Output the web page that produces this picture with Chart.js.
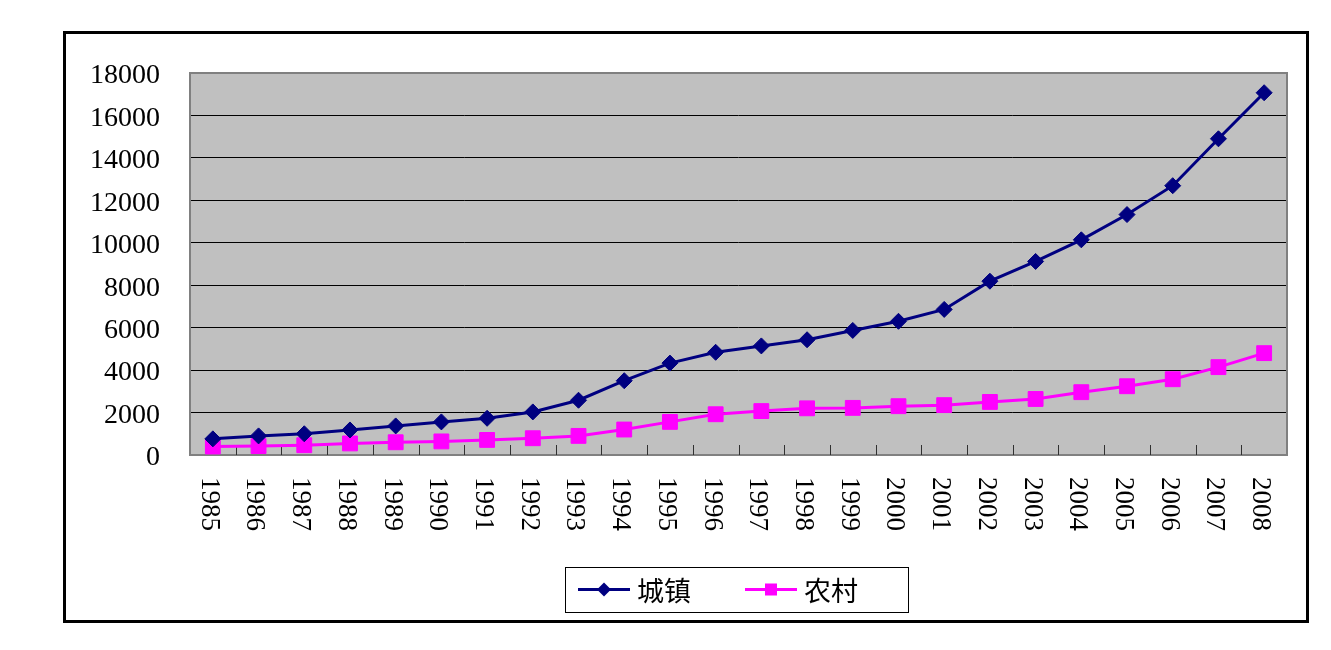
<!DOCTYPE html>
<html lang="zh">
<head>
<meta charset="UTF-8">
<title>城镇与农村 1985-2008</title>
<script src="https://cdn.jsdelivr.net/npm/chart.js"></script>
<style>
  html, body { margin: 0; padding: 0; background: #fff; }
  .wrap { position: relative; width: 1331px; height: 650px; }
  .frame { position: absolute; left: 63px; top: 31px; width: 1240px; height: 586px; border: 3px solid #000; pointer-events: none; }
  #chart { position: absolute; left: 0; top: 0; }
</style>
</head>
<body>
<div class="wrap">
  <canvas id="chart" width="1331" height="650"></canvas>
  <div class="frame"></div>
</div>
<script>
const years = ['1985','1986','1987','1988','1989','1990','1991','1992','1993','1994','1995','1996',
               '1997','1998','1999','2000','2001','2002','2003','2004','2005','2006','2007','2008'];
const urban = [760, 900, 1000, 1180, 1370, 1560, 1730, 2030, 2580, 3500, 4330, 4840,
               5140, 5430, 5870, 6300, 6860, 8190, 9120, 10140, 11330, 12690, 14900, 17070];
const rural = [400, 420, 460, 545, 600, 640, 710, 790, 900, 1200, 1560, 1920,
               2070, 2200, 2220, 2300, 2350, 2500, 2640, 2960, 3240, 3570, 4140, 4800];
const seriesNames = ['城镇', '农村'];
const yTicks = [0, 2000, 4000, 6000, 8000, 10000, 12000, 14000, 16000, 18000];

const NAVY = '#000080';
const PINK = '#FF00FF';
const serif = '"Liberation Serif", "DejaVu Serif", serif';

// gray plot background + border, short tick marks on the category axis
const plotFrame = {
  id: 'plotFrame',
  beforeDraw(chart) {
    const { ctx, chartArea: a } = chart;
    ctx.save();
    ctx.fillStyle = '#C0C0C0';
    ctx.fillRect(a.left, a.top, a.right - a.left, a.bottom - a.top);
    ctx.restore();
  },
  beforeDatasetsDraw(chart) {
    const { ctx, chartArea: a } = chart;
    const xs = chart.scales.x;
    ctx.save();
    ctx.strokeStyle = '#808080';
    ctx.lineWidth = 2;
    ctx.strokeRect(a.left, a.top, a.right - a.left, a.bottom - a.top);
    ctx.strokeStyle = '#303030';
    ctx.lineWidth = 1;
    ctx.beginPath();
    for (let i = 1; i < years.length; i++) {
      const px = Math.round(xs.getPixelForValue(i - 0.5)) + 0.5;
      ctx.moveTo(px, a.bottom);
      ctx.lineTo(px, a.bottom - 10);
    }
    ctx.stroke();
    ctx.restore();
  },
  afterDraw(chart) {
    const { ctx, chartArea: a } = chart;
    const xs = chart.scales.x;
    ctx.save();
    // x labels, rotated clockwise
    ctx.font = '27px ' + serif;
    ctx.fillStyle = '#000';
    ctx.textAlign = 'left';
    ctx.textBaseline = 'middle';
    years.forEach((y, i) => {
      const px = xs.getPixelForValue(i);
      ctx.save();
      ctx.translate(px - 4, a.bottom + 22);
      ctx.rotate(Math.PI / 2);
      ctx.fillText(y, 0, 0);
      ctx.restore();
    });

    // legend box
    const lx = 565, ly = 567, lw = 343, lh = 45;
    ctx.fillStyle = '#fff';
    ctx.fillRect(lx, ly, lw, lh);
    ctx.strokeStyle = '#000';
    ctx.lineWidth = 1;
    ctx.strokeRect(lx + 0.5, ly + 0.5, lw, lh);
    const cy = ly + lh / 2;
    ctx.lineWidth = 3;
    // urban
    ctx.strokeStyle = NAVY;
    ctx.beginPath(); ctx.moveTo(578, cy); ctx.lineTo(630, cy); ctx.stroke();
    ctx.fillStyle = NAVY;
    ctx.beginPath();
    ctx.moveTo(604, cy - 7); ctx.lineTo(611, cy); ctx.lineTo(604, cy + 7); ctx.lineTo(597, cy);
    ctx.closePath(); ctx.fill();
    // rural
    ctx.strokeStyle = PINK;
    ctx.beginPath(); ctx.moveTo(745, cy); ctx.lineTo(797, cy); ctx.stroke();
    ctx.fillStyle = PINK;
    ctx.fillRect(765, cy - 6, 12, 12);
    ctx.fillStyle = '#000';
    ctx.font = '27px "Noto Sans CJK SC", sans-serif';
    ctx.textBaseline = 'middle';
    ctx.fillText(seriesNames[0], 637, cy + 1);
    ctx.fillText(seriesNames[1], 804, cy + 1);
    ctx.restore();
  }
};

new Chart(document.getElementById('chart'), {
  type: 'line',
  data: {
    labels: years,
    datasets: [
      { label: seriesNames[0], data: urban, borderColor: NAVY, backgroundColor: NAVY,
        borderWidth: 3, pointStyle: 'rectRot', pointRadius: 8, pointBorderWidth: 1, tension: 0 },
      { label: seriesNames[1], data: rural, borderColor: PINK, backgroundColor: PINK,
        borderWidth: 3, pointStyle: 'rect', pointRadius: 10.5, pointBorderWidth: 1, tension: 0 }
    ]
  },
  options: {
    responsive: false,
    animation: false,
    layout: { padding: { left: 80, right: 44, top: 73, bottom: 195 } },
    plugins: { legend: { display: false }, tooltip: { enabled: false } },
    scales: {
      x: {
        offset: true,
        grid: { display: false, offset: true },
        border: { display: false },
        ticks: { display: false },
        afterFit: s => { s.height = 0; }
      },
      y: {
        min: 0, max: 18000,
        afterBuildTicks: s => { s.ticks = yTicks.map(v => ({ value: v })); },
        afterFit: s => { s.width = 110; },
        grid: {
          drawTicks: false,
          color: c => (c.tick && (c.tick.value === 0 || c.tick.value === 18000)) ? 'rgba(0,0,0,0)' : '#000',
          lineWidth: 1
        },
        border: { display: false },
        ticks: {
          padding: 30, labelOffset: 3, color: '#000',
          font: { family: serif, size: 28 },
          callback: v => String(v)
        }
      }
    }
  },
  plugins: [plotFrame]
});
</script>
</body>
</html>
